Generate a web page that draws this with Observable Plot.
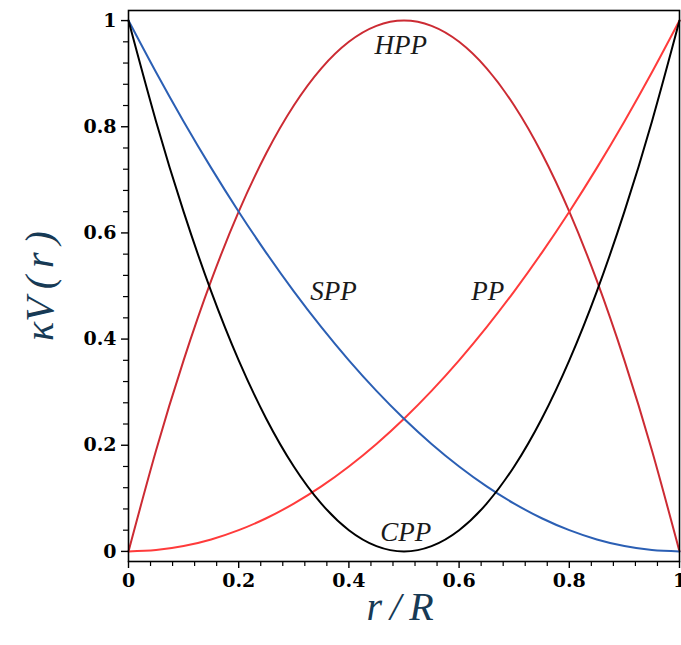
<!DOCTYPE html>
<html>
<head>
<meta charset="utf-8">
<script src="https://cdn.jsdelivr.net/npm/d3@7"></script>
<script src="https://cdn.jsdelivr.net/npm/@observablehq/plot@0.6"></script>
<style>
  html, body { margin: 0; padding: 0; background: #fff; }
  #chart { width: 681px; height: 645px; }
</style>
</head>
<body>
<div id="chart"></div>
<script>
// r/R sample positions
const rR = [0, 0.05, 0.1, 0.15, 0.2, 0.25, 0.3, 0.35, 0.4, 0.45, 0.5, 0.55, 0.6, 0.65, 0.7, 0.75, 0.8, 0.85, 0.9, 0.95, 1];
// kappa V(r)
const HPP = [0, 0.19, 0.36, 0.51, 0.64, 0.75, 0.84, 0.91, 0.96, 0.99, 1, 0.99, 0.96, 0.91, 0.84, 0.75, 0.64, 0.51, 0.36, 0.19, 0];
const PP  = [0, 0.0025, 0.01, 0.0225, 0.04, 0.0625, 0.09, 0.1225, 0.16, 0.2025, 0.25, 0.3025, 0.36, 0.4225, 0.49, 0.5625, 0.64, 0.7225, 0.81, 0.9025, 1];
const SPP = [1, 0.9025, 0.81, 0.7225, 0.64, 0.5625, 0.49, 0.4225, 0.36, 0.3025, 0.25, 0.2025, 0.16, 0.1225, 0.09, 0.0625, 0.04, 0.0225, 0.01, 0.0025, 0];
const CPP = [1, 0.81, 0.64, 0.49, 0.36, 0.25, 0.16, 0.09, 0.04, 0.01, 0, 0.01, 0.04, 0.09, 0.16, 0.25, 0.36, 0.49, 0.64, 0.81, 1];

const seriesNames = ["HPP", "PP", "SPP", "CPP"];
const seriesColors = ["#cc2b33", "#ff3b3b", "#2b5fb4", "#000000"];

// label positions (data coordinates)
const labelText = ["HPP", "SPP", "PP", "CPP"];
const labelX = [0.494, 0.372, 0.652, 0.503];
const labelY = [0.953, 0.49, 0.49, 0.036];

const majorTicks = [0, 0.2, 0.4, 0.6, 0.8, 1];
const tickLabels = ["0", "0.2", "0.4", "0.6", "0.8", "1"];
const minorTicks = [0.04, 0.08, 0.12, 0.16, 0.24, 0.28, 0.32, 0.36, 0.44, 0.48, 0.52, 0.56, 0.64, 0.68, 0.72, 0.76, 0.84, 0.88, 0.92, 0.96];

const seriesValues = [HPP, PP, SPP, CPP];
const rows = [];
seriesNames.forEach((name, i) => {
  rR.forEach((x, j) => rows.push({series: name, x, y: seriesValues[i][j]}));
});
const labels = labelText.map((t, i) => ({t, x: labelX[i], y: labelY[i]}));
const fmt = d => tickLabels[majorTicks.indexOf(d)] ?? "";

const tickFont = "DejaVu Serif";

const chart = Plot.plot({
  width: 681,
  height: 645,
  marginLeft: 128,
  marginRight: 2,
  marginTop: 10,
  marginBottom: 84,
  style: {background: "#fff", fontFamily: tickFont},
  x: {domain: [0, 1]},
  y: {domain: [-0.019, 1.019]},
  color: {domain: seriesNames, range: seriesColors},
  marks: [
    Plot.line(rows, {x: "x", y: "y", z: "series", stroke: "series", strokeWidth: 2, curve: "natural"}),
    Plot.axisX(minorTicks, {label: null, tickSize: 5, tickFormat: () => "", strokeWidth: 1.2}),
    Plot.axisX(majorTicks, {label: null, tickSize: 7, tickPadding: 5, tickFormat: fmt, fontSize: 19, fontWeight: "bold", fontFamily: tickFont, fill: "#000", strokeWidth: 1.4}),
    Plot.axisY(minorTicks, {label: null, tickSize: 5, tickFormat: () => "", strokeWidth: 1.2}),
    Plot.axisY(majorTicks, {label: null, tickSize: 7, tickPadding: 5, tickFormat: fmt, fontSize: 19, fontWeight: "bold", fontFamily: tickFont, fill: "#000", strokeWidth: 1.4}),
    Plot.frame({stroke: "#000", strokeWidth: 1.6}),
    Plot.text(labels, {x: "x", y: "y", text: "t", fontSize: 27, fontStyle: "italic", fontFamily: "Liberation Serif", fill: "#1a1a1a"}),
    Plot.text(["κV\u2009(\u2009r\u2009)"], {frameAnchor: "left", textAnchor: "middle", dx: -88, dy: 0, rotate: -90, fontSize: 40, fontStyle: "italic", fontFamily: "Liberation Serif", fill: "#173a55"}),
    Plot.text(["r\u2009/\u2009R"], {frameAnchor: "bottom", textAnchor: "middle", dx: -4, dy: 58, fontSize: 40, fontStyle: "italic", fontFamily: "Liberation Serif", fill: "#173a55"})
  ]
});
document.getElementById("chart").appendChild(chart);
</script>
</body>
</html>
